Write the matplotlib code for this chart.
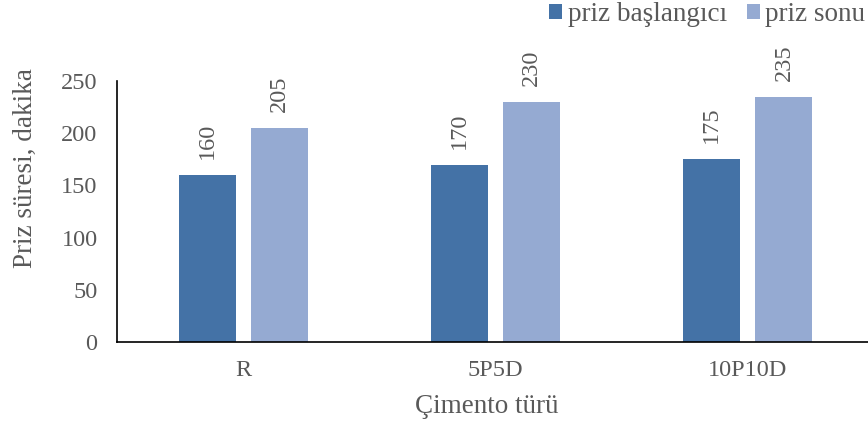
import matplotlib
matplotlib.use("Agg")
import matplotlib.pyplot as plt
import numpy as np

categories = ["R", "5P5D", "10P10D"]
priz_baslangici = [160, 170, 175]
priz_sonu = [205, 230, 235]
series_names = ["priz başlangıcı", "priz sonu"]
yticks = [0, 50, 100, 150, 200, 250]

plt.rcParams["font.family"] = ["Liberation Serif", "DejaVu Serif"]
text_color = "#595959"
dark = "#4472A6"
light = "#95AAD2"
tick_fs = 17.5
title_fs = 19.5

fig = plt.figure(figsize=(8.68, 4.24), dpi=100)
ax = fig.add_axes([0.1348, 0.1934, 0.8721, 0.6156])

x = np.arange(len(categories))
w = 0.226
off = 0.143
b1 = ax.bar(x - off, priz_baslangici, w, color=dark, label=series_names[0])
b2 = ax.bar(x + off, priz_sonu, w, color=light, label=series_names[1])

for bars, vals in ((b1, priz_baslangici), (b2, priz_sonu)):
    for rect, v in zip(bars, vals):
        ax.annotate(f"{v}", (rect.get_x() + rect.get_width() / 2, v),
                    xytext=(0, 11.5), textcoords="offset points",
                    rotation=90, ha="center", va="bottom",
                    fontsize=tick_fs, color=text_color)

ax.set_xlim(-0.5, 2.5)
ax.set_ylim(0, 250)
ax.set_yticks(yticks)
ax.set_xticks(x)
ax.set_xticklabels(categories)
ax.tick_params(axis="both", length=0, labelsize=tick_fs, labelcolor=text_color)
ax.tick_params(axis="y", pad=14)
ax.tick_params(axis="x", pad=13)
for s in ("top", "right"):
    ax.spines[s].set_visible(False)
for s in ("left", "bottom"):
    ax.spines[s].set_color("#000000")
    ax.spines[s].set_linewidth(1.2)

ax.set_ylabel("Priz süresi, dakika", fontsize=title_fs, color=text_color)
ax.yaxis.set_label_coords(-0.105, 0.667)
ax.set_xlabel("Çimento türü", fontsize=title_fs, color=text_color, labelpad=9)
ax.xaxis.set_label_coords(0.489, -0.2)
ax.xaxis.label.set_verticalalignment("top")

fig.legend(loc="upper right", bbox_to_anchor=(0.997, 0.995), ncol=2, frameon=False,
           fontsize=title_fs, labelcolor=text_color, handlelength=0.48, handleheight=0.48,
           handletextpad=0.2, columnspacing=0.75, borderaxespad=0, borderpad=0)

fig.savefig("out.png", dpi=100)
